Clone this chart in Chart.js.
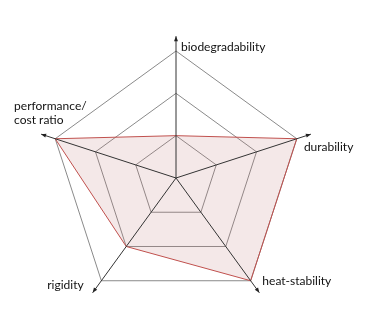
<!DOCTYPE html>
<html><head><meta charset="utf-8">
<script src="https://cdn.jsdelivr.net/npm/chart.js@4/dist/chart.umd.min.js"></script>
<style>html,body{margin:0;padding:0;background:#fff}#w{width:368px;height:315px}</style>
</head><body><div id="w"><canvas id="c" width="368" height="315"></canvas></div>
<script>
const categories = ['biodegradability', 'durability', 'heat-stability', 'rigidity', ['performance/', 'cost ratio']];
const values = [1, 3, 3, 2, 3];
const tickValues = [0, 1, 2, 3];

const FONT = '12px Lato, "Open Sans", sans-serif';
// label anchor offsets relative to arrow tip: [dx, dy, align]
const labelOffsets = [[5, 11, 'left'], [-7, 13, 'left'], [3, -12, 'left'], [-9, -8, 'right'], [-27, -28, 'left']];

const axesPlugin = {
  id: 'axesArrows',
  afterDatasetsDraw(chart) {
    const s = chart.scales.r;
    const ctx = chart.ctx;
    const tipR = s.getDistanceFromCenterForValue(3.35);
    ctx.save();
    for (let i = 0; i < categories.length; i++) {
      const p = s.getPointPosition(i, tipR);
      const ang = Math.atan2(p.y - s.yCenter, p.x - s.xCenter);
      ctx.strokeStyle = '#333';
      ctx.lineWidth = 1;
      ctx.beginPath();
      ctx.moveTo(s.xCenter, s.yCenter);
      ctx.lineTo(p.x, p.y);
      ctx.stroke();
      ctx.fillStyle = '#222';
      ctx.beginPath();
      ctx.moveTo(p.x, p.y);
      ctx.lineTo(p.x - 5 * Math.cos(ang) + 2 * Math.sin(ang), p.y - 5 * Math.sin(ang) - 2 * Math.cos(ang));
      ctx.lineTo(p.x - 5 * Math.cos(ang) - 2 * Math.sin(ang), p.y - 5 * Math.sin(ang) + 2 * Math.cos(ang));
      ctx.closePath();
      ctx.fill();
      const o = labelOffsets[i];
      ctx.fillStyle = '#111';
      ctx.font = FONT;
      ctx.textAlign = o[2];
      ctx.textBaseline = 'middle';
      const lines = Array.isArray(categories[i]) ? categories[i] : [categories[i]];
      lines.forEach((t, k) => ctx.fillText(t, p.x + o[0], p.y + o[1] + k * 14));
    }
    ctx.restore();
  }
};

new Chart(document.getElementById('c'), {
  type: 'radar',
  data: {
    labels: categories,
    datasets: [{
      data: values,
      borderColor: '#c0504d',
      borderWidth: 1,
      backgroundColor: 'rgba(192,120,120,0.17)',
      fill: true,
      pointRadius: 0,
      tension: 0
    }]
  },
  options: {
    responsive: false,
    animation: false,
    devicePixelRatio: 1,
    layout: { padding: { left: 49, right: 65, top: 51, bottom: 10 } },
    plugins: { legend: { display: false }, tooltip: { enabled: false } },
    scales: {
      r: {
        min: 0, max: 3,
        ticks: { display: false, stepSize: 1 },
        afterBuildTicks: (sc) => { sc.ticks = tickValues.map(v => ({ value: v })); },
        grid: { color: '#8a8a8a', lineWidth: 1 },
        angleLines: { display: false },
        pointLabels: { display: false }
      }
    }
  },
  plugins: [axesPlugin]
});
</script></body></html>
